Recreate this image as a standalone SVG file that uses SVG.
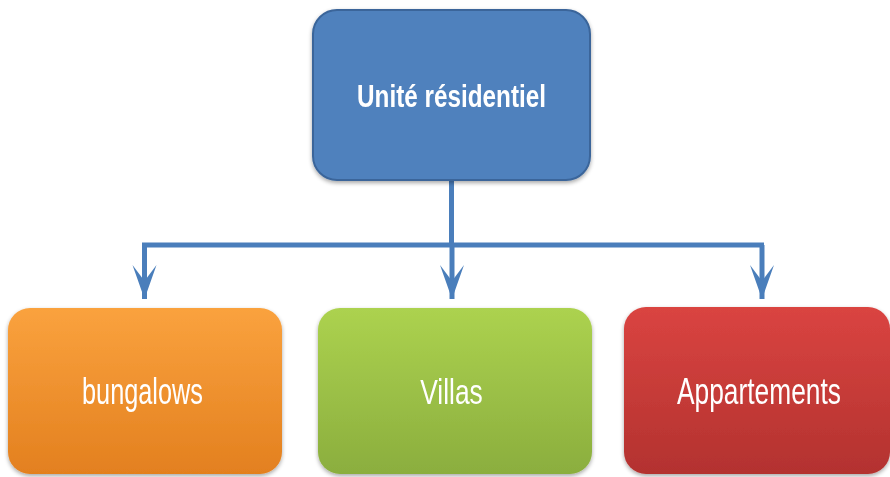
<svg xmlns="http://www.w3.org/2000/svg" width="890" height="477" viewBox="0 0 890 477">
  <style>
    .lbl { font-family: "Liberation Sans", Arial, sans-serif; fill: #ffffff; text-anchor: middle; }
    .top { font-weight: bold; font-size: 31px; }
    .sub { font-size: 36px; }
    .conn { fill: none; stroke: #4A7EBB; stroke-width: 5; }
  </style>
  <defs>
    <linearGradient id="gOrange" x1="0" y1="0" x2="0" y2="1">
      <stop offset="0" stop-color="#FAA23E"/>
      <stop offset="1" stop-color="#E3801F"/>
    </linearGradient>
    <linearGradient id="gGreen" x1="0" y1="0" x2="0" y2="1">
      <stop offset="0" stop-color="#ACD24F"/>
      <stop offset="1" stop-color="#8BAE3E"/>
    </linearGradient>
    <linearGradient id="gRed" x1="0" y1="0" x2="0" y2="1">
      <stop offset="0" stop-color="#DA4441"/>
      <stop offset="1" stop-color="#B3322F"/>
    </linearGradient>
    <filter id="sh" x="-10%" y="-10%" width="120%" height="125%">
      <feGaussianBlur in="SourceAlpha" stdDeviation="2"/>
      <feOffset dx="0" dy="2" result="b"/>
      <feComponentTransfer><feFuncA type="linear" slope="0.35"/></feComponentTransfer>
      <feMerge><feMergeNode/><feMergeNode in="SourceGraphic"/></feMerge>
    </filter>
    <marker id="arr" markerUnits="userSpaceOnUse" viewBox="0 -13 34 26" refX="34" refY="0" markerWidth="34" markerHeight="26" orient="auto">
      <path d="M0,-12 L34,0 L0,12 L16,0 Z" fill="#4A7EBB"/>
    </marker>
  </defs>

  <g id="connectors">
    <path class="conn" d="M451.5,181 V245"/>
    <path class="conn" d="M142,245 H764" stroke-width="6"/>
    <path class="conn" d="M144.5,245 V299" marker-end="url(#arr)"/>
    <path class="conn" d="M452,245 V299" marker-end="url(#arr)"/>
    <path class="conn" d="M762,245 V299" marker-end="url(#arr)"/>
  </g>

  <g id="node-unite" filter="url(#sh)">
    <rect x="313" y="10" width="277" height="170" rx="24" ry="24" fill="#4F81BD" stroke="#3A659A" stroke-width="2"/>
    <text class="lbl top" transform="translate(451.5,107) scale(0.784,1)">Unité résidentiel</text>
  </g>

  <g id="node-bungalows" filter="url(#sh)">
    <rect x="8" y="308" width="274" height="166" rx="22" ry="22" fill="url(#gOrange)"/>
    <text class="lbl sub" transform="translate(142.5,404) scale(0.703,1)">bungalows</text>
  </g>

  <g id="node-villas" filter="url(#sh)">
    <rect x="318" y="308" width="274" height="166" rx="22" ry="22" fill="url(#gGreen)"/>
    <text class="lbl sub" transform="translate(451.5,404) scale(0.733,1)">Villas</text>
  </g>

  <g id="node-appartements" filter="url(#sh)">
    <rect x="624" y="307" width="266" height="167" rx="22" ry="22" fill="url(#gRed)"/>
    <text class="lbl sub" transform="translate(759,404) scale(0.732,1)">Appartements</text>
  </g>
</svg>
